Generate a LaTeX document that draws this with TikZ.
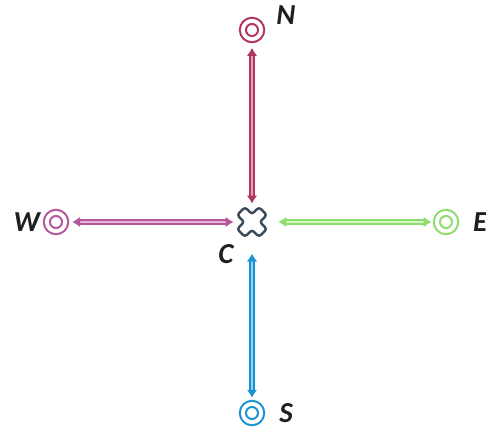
\documentclass[tikz,border=0pt]{standalone}
\usepackage{fontspec}
\setmainfont{Carlito}
\usepackage{tikz}
\usetikzlibrary{positioning, arrows.meta}
\definecolor{cnord}{HTML}{B0355F}
\definecolor{cnordc}{HTML}{E8A0B8}
\definecolor{couest}{HTML}{B4579A}
\definecolor{couestc}{HTML}{EDB2DC}
\definecolor{cest}{HTML}{8CDC6E}
\definecolor{cestc}{HTML}{D2F6C4}
\definecolor{csud}{HTML}{1E92D0}
\definecolor{csudc}{HTML}{8AD4F4}
\definecolor{ccroix}{HTML}{3C4B5C}

\begin{document}
\begin{tikzpicture}[x=0.02cm, y=-0.02cm,
    anneau/.style={circle, draw=#1, double=white, line width=1.2pt,
      double distance=2.2pt, minimum size=10.4pt, inner sep=0pt, outer sep=0pt},
    centre/.style={circle, minimum size=18pt, inner sep=0pt, outer sep=0pt},
    lien/.style={draw=#1, double=#1c, line width=0.8pt, double distance=1.5pt,
      {Latex[length=4.5pt, width=6pt]}-{Latex[length=4.5pt, width=6pt]}},
    et/.style={font=\bfseries\itshape\fontsize{16.5}{16.5}\selectfont,
      inner sep=0pt, text=black!88}]

  \useasboundingbox (0,0) rectangle (486,432);

  % --- points ---
  \node[anneau=cnord]  (N) at (252,30)  {};
  \node[anneau=couest] (W) at (56,222)  {};
  \node[anneau=cest]   (E) at (446,222) {};
  \node[anneau=csud]   (S) at (252,413) {};
  \node[centre]        (C) at (252,222) {};

  % --- croix ---
  \draw[ccroix, line width=1.4pt, rounded corners=1.6pt, shift={(C.center)}, rotate=45]
    (5.5,5.5) -- (15.5,5.5) -- (15.5,-5.5) -- (5.5,-5.5) -- (5.5,-15.5) -- (-5.5,-15.5)
    -- (-5.5,-5.5) -- (-15.5,-5.5) -- (-15.5,5.5) -- (-5.5,5.5) -- (-5.5,15.5)
    -- (5.5,15.5) -- cycle;

  % --- liaisons ---
  \draw[lien=cnord,  shorten <=5pt,   shorten >=1.5pt] (N) -- (C);
  \draw[lien=couest, shorten <=4pt,   shorten >=1.5pt] (W) -- (C);
  \draw[lien=cest,   shorten <=3pt,   shorten >=6pt]   (E) -- (C);
  \draw[lien=csud,   shorten <=3.5pt, shorten >=9pt]   (S) -- (C);

  % --- lettres ---
  \node[et, above right=-1pt and 10pt of N] {N};
  \node[et, left=3.8pt of W] {W};
  \node[et, right=10pt of E] {E};
  \node[et, right=10.2pt of S] {S};
  \node[et, below left=6.5pt and 4pt of C] {C};
\end{tikzpicture}
\end{document}
